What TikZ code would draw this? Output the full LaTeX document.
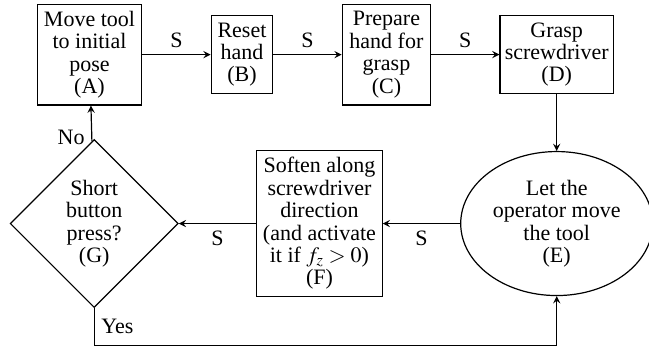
\documentclass[tikz,border=0pt]{standalone}
\usepackage{mathptmx}
\usepackage[no-math]{fontspec}
\setmainfont{Liberation Serif}
\usepackage{tikz}
\usetikzlibrary{shapes.geometric, arrows, positioning}
\tikzstyle{box} = [rectangle, draw=black, semithick, align=center, inner sep=0pt]
\tikzstyle{oval} = [ellipse, minimum width=96pt, minimum height=72pt, inner sep=0pt, draw=black, semithick, align=center]
\tikzstyle{decision} = [diamond, aspect=1, minimum width=84pt, minimum height=84pt, inner sep=0pt, draw=black, semithick, align=center]
\tikzstyle{arrow} = [semithick,->,>=stealth]

\begin{document}
\begin{tikzpicture}[node distance=1.2cm, font=\fontsize{11}{11.2}\selectfont]
\useasboundingbox (0,0) rectangle (324.5pt,-174pt);
\node (A) [box, minimum width=52.2pt, minimum height=50.35pt] at (44.75pt,-27.3pt) {Move tool\\to initial\\pose\\(A)};
\node (B) [box, minimum width=30.8pt, minimum height=38.85pt, right=of A] {Reset\\hand\\(B)};
\node (C) [box, minimum width=44.15pt, minimum height=50.35pt, right=of B] {Prepare\\hand for\\grasp\\(C)};
\node (D) [box, minimum width=56.65pt, minimum height=38.85pt, right=of C] {Grasp\\screwdriver\\(D)};
\node (E) [oval, below=1cm of D] {Let the\\operator move\\the tool\\(E)};
\node (F) [box, minimum width=62.65pt, minimum height=72.85pt, left=38.7pt of E] {Soften along\\screwdriver\\direction\\(and activate\\it if $f_z > 0$)\\(F)};
\node (G) [decision, left=38.7pt of F] {Short\\button\\press?\\(G)};
%\node (H) [box, below of=G] {};
\draw [arrow] (A) -- node[above] {S} (B);
\draw [arrow] (B) -- node[above] {S} (C);
\draw [arrow] (C) -- node[above] {S} (D);
\draw [arrow] (D) -- (E);
\draw [arrow] (E) -- node[below] {S} (F);
\draw [arrow] (F) -- node[below] {S} (G);
\draw [arrow] (G) -- node[pos=0.1,left] {No} (A);
\draw [arrow] (G.south) -- ++(0,-18.6pt) node[midway,right] {Yes} -| (E.south);
\end{tikzpicture}
\end{document}
